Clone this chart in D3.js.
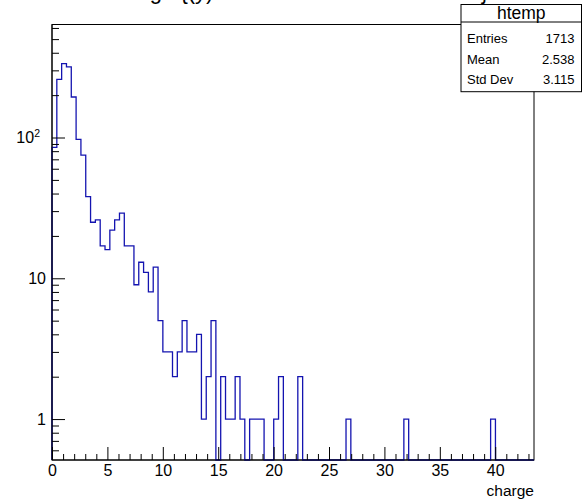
<!DOCTYPE html>
<html>
<head>
<meta charset="utf-8">
<script src="https://cdn.jsdelivr.net/npm/d3@7"></script>
<style>
  html, body { margin: 0; padding: 0; background: #fff; }
  svg { display: block; font-family: "Liberation Sans", Arial, Helvetica, sans-serif; }
</style>
</head>
<body>
<svg id="chart" width="582" height="499"></svg>
<script>
// ---- data ----
const histName = "htemp";
const histTitle = "charge {(y) < 1000 && channel == 150}";
const xTitle = "charge";
const binLow = 0;
const binHigh = 43.5;
const counts = [
  85, 259, 335, 318, 194, 97, 75, 38, 25, 26,
  17, 16, 22, 26, 29, 17, 17, 9, 13, 11,
  8, 12, 5, 3, 3, 2, 3, 5, 3, 3,
  4, 1, 2, 5, 0, 2, 1, 1, 2, 1,
  0, 1, 1, 1, 0, 0, 1, 2, 0, 0,
  0, 2, 0, 0, 0, 0, 0, 0, 0, 0,
  0, 1, 0, 0, 0, 0, 0, 0, 0, 0,
  0, 0, 0, 1, 0, 0, 0, 0, 0, 0,
  0, 0, 0, 0, 0, 0, 0, 0, 0, 0,
  0, 1, 0, 0, 0, 0, 0, 0, 0, 0
];
const xMajorTicks = [0, 5, 10, 15, 20, 25, 30, 35, 40];
const xMinorTicks = d3.range(0, 44, 1).filter(v => v % 5 !== 0);
const yMajorTicks = [1, 10, 100];
const yMajorLabels = [["1", ""], ["10", ""], ["10", "2"]];
const yMinorTicks = [0.6, 0.7, 0.8, 0.9, 2, 3, 4, 5, 6, 7, 8, 9, 20, 30, 40, 50, 60, 70, 80, 90, 200, 300, 400, 500, 600];
const statLabels = ["Entries", "Mean", "Std Dev"];
const statValues = ["1713", "2.538", "3.115"];

// ---- layout ----
const frame = { left: 52, right: 534, top: 24.5, bottom: 460 };
const svg = d3.select("#chart");

const x = d3.scaleLinear().domain([binLow, binHigh]).range([frame.left, frame.right]);
const y = d3.scaleLog().domain([0.512, 635]).range([frame.bottom, frame.top]);

// title (mostly outside the window, as in the reference)
svg.append("text")
  .attr("x", 107).attr("y", -1)
  .attr("font-size", 22)
  .attr("fill", "#000")
  .text(histTitle);

// frame
svg.append("rect")
  .attr("x", frame.left).attr("y", frame.top)
  .attr("width", frame.right - frame.left)
  .attr("height", frame.bottom - frame.top)
  .attr("fill", "none").attr("stroke", "#000").attr("stroke-width", 1);

// histogram outline
svg.append("clipPath").attr("id", "clip")
  .append("rect")
  .attr("x", frame.left - 1).attr("y", frame.top)
  .attr("width", frame.right - frame.left + 2)
  .attr("height", frame.bottom - frame.top + 1);

const nb = counts.length;
const bw = (binHigh - binLow) / nb;
const yv = v => v > 0 ? y(v) : frame.bottom;
const pts = [[x(binLow), frame.bottom]];
counts.forEach((c, i) => {
  pts.push([x(binLow + i * bw), yv(c)]);
  pts.push([x(binLow + (i + 1) * bw), yv(c)]);
});
pts.push([x(binHigh), frame.bottom]);

svg.append("path")
  .attr("clip-path", "url(#clip)")
  .attr("d", d3.line()(pts))
  .attr("fill", "none")
  .attr("stroke", "#1414b0")
  .attr("stroke-width", 1.3);

// x axis
const gx = svg.append("g").attr("transform", `translate(0,${frame.bottom})`);
gx.call(d3.axisBottom(x).tickValues(xMajorTicks).tickSize(-13).tickPadding(5).tickFormat(d3.format("d")));
const gxm = svg.append("g").attr("transform", `translate(0,${frame.bottom})`);
gxm.call(d3.axisBottom(x).tickValues(xMinorTicks).tickSize(-6).tickFormat(""));
[gx, gxm].forEach(g => {
  g.select(".domain").remove();
  g.selectAll("line").attr("stroke", "#000");
  g.selectAll("text").attr("font-family", null).attr("font-size", 16).attr("fill", "#000");
});
svg.append("line")
  .attr("x1", frame.left).attr("x2", frame.right)
  .attr("y1", frame.bottom).attr("y2", frame.bottom)
  .attr("stroke", "#000");

svg.append("text")
  .attr("x", frame.right).attr("y", 495.5)
  .attr("text-anchor", "end")
  .attr("font-size", 15.5)
  .text(xTitle);

// y axis
const gy = svg.append("g").attr("transform", `translate(${frame.left},0)`);
gy.call(d3.axisLeft(y).tickValues(yMajorTicks).tickSize(-13).tickPadding(6).tickFormat(() => ""));
const gym = svg.append("g").attr("transform", `translate(${frame.left},0)`);
gym.call(d3.axisLeft(y).tickValues(yMinorTicks).tickSize(-7).tickFormat(""));
[gy, gym].forEach(g => {
  g.select(".domain").remove();
  g.selectAll("line").attr("stroke", "#000");
});
gy.selectAll(".tick text")
  .attr("font-family", null)
  .attr("font-size", 16)
  .attr("fill", "#000")
  .each(function (d, i) {
    const t = d3.select(this);
    const lab = yMajorLabels[i];
    t.text(null);
    t.append("tspan").text(lab[0]);
    if (lab[1]) {
      t.attr("x", -12);
      t.append("tspan").attr("font-size", 10.5).attr("dy", "-0.55em").text(lab[1]);
    }
  });
svg.append("line")
  .attr("x1", frame.left).attr("x2", frame.left)
  .attr("y1", frame.top).attr("y2", frame.bottom)
  .attr("stroke", "#000");

// stats box
const sb = { left: 461, right: 581.5, top: 4.5, bottom: 91.7, header: 22 };
svg.append("rect")
  .attr("x", sb.left).attr("y", sb.top)
  .attr("width", sb.right - sb.left).attr("height", sb.bottom - sb.top)
  .attr("fill", "#fff").attr("stroke", "#000").attr("stroke-width", 1);
svg.append("line")
  .attr("x1", sb.left).attr("x2", sb.right)
  .attr("y1", sb.header).attr("y2", sb.header)
  .attr("stroke", "#000");
svg.append("text")
  .attr("x", (sb.left + sb.right) / 2).attr("y", 19)
  .attr("text-anchor", "middle")
  .attr("font-size", 17.5)
  .text(histName);
const rowY = [42.7, 64, 84];
statLabels.forEach((s, i) => {
  svg.append("text").attr("x", 467).attr("y", rowY[i]).attr("font-size", 13).text(s);
  svg.append("text").attr("x", 574.5).attr("y", rowY[i]).attr("font-size", 13)
    .attr("text-anchor", "end").text(statValues[i]);
});
</script>
</body>
</html>
